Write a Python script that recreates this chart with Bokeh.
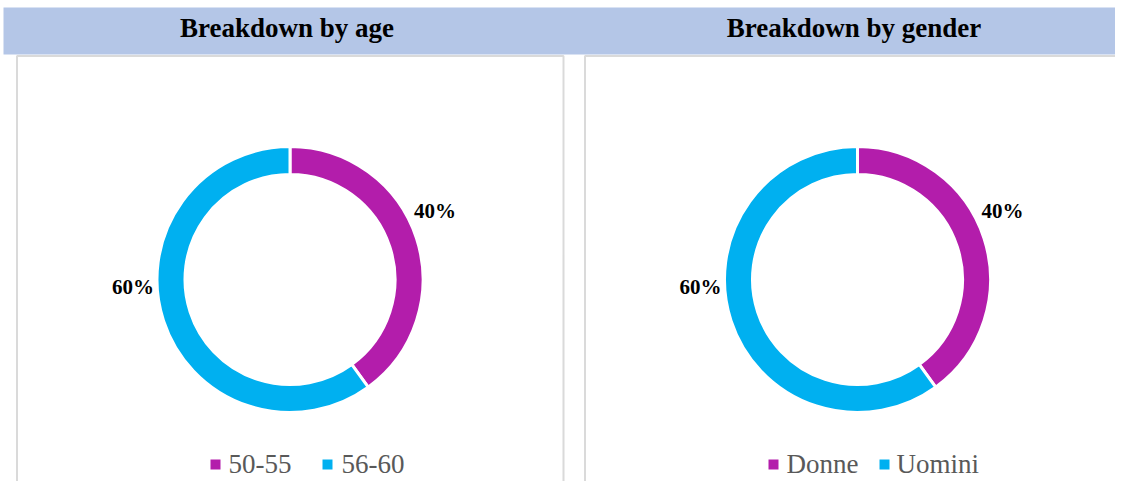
import numpy as np
from bokeh.plotting import figure
from bokeh.models import Range1d
from bokeh.core.properties import value
from bokeh.embed import file_html
from bokeh.resources import INLINE

# ---- data ----
titles = ["Breakdown by age", "Breakdown by gender"]
age_categories = ["50-55", "56-60"]
age_values = [40, 60]
gender_categories = ["Donne", "Uomini"]
gender_values = [40, 60]
colors = ["#B31DAB", "#00B0F0"]

# ---- layout (screen pixel coordinates of the reference) ----
W, H = 1131, 497
FW, FH = 1115, 481
SERIF = "Liberation Serif"

p = figure(width=FW, height=FH,
           x_range=Range1d(0, FW), y_range=Range1d(H - FH, H),
           output_backend="svg", toolbar_location=None, min_border=0)
p.axis.visible = False
p.grid.visible = False
p.outline_line_color = None
p.background_fill_color = "white"
p.border_fill_color = "white"


def Y(s):
    return H - s


# header band
p.quad(left=3, right=1140, top=Y(7), bottom=Y(54),
       fill_color="#B4C6E7", line_color=None)

panels = [
    dict(left=16.5, right=563, cx=289.5, title_x=286.5,
         cats=age_categories, vals=age_values,
         legend_sq=[215, 327], legend_tx=[228, 341]),
    dict(left=584.5, right=1129, cx=857, title_x=853.5,
         cats=gender_categories, vals=gender_values,
         legend_sq=[773, 884], legend_tx=[786, 896]),
]

CY = 279
R_IN, R_OUT = 105, 133
label_offsets = [(145, 69), (-157, -7)]
LEG_Y = 463

for panel, title in zip(panels, titles):
    # panel frame
    p.quad(left=panel["left"], right=panel["right"], top=Y(55.5), bottom=Y(520),
           fill_color="white", line_color="#DADADA", line_width=2)
    # title
    p.text(x=[panel["title_x"]], y=[Y(27)], text=[title],
           text_font=value(SERIF), text_font_style="bold", text_font_size="27px",
           text_color="black", text_align="center", text_baseline="middle")
    # donut
    vals = np.array(panel["vals"], dtype=float)
    frac = vals / vals.sum()
    cum = np.concatenate([[0.0], np.cumsum(frac)])
    starts = np.pi / 2 - cum[:-1] * 2 * np.pi
    ends = np.pi / 2 - cum[1:] * 2 * np.pi
    p.annular_wedge(x=panel["cx"], y=Y(CY), inner_radius=R_IN, outer_radius=R_OUT,
                    start_angle=list(starts), end_angle=list(ends), direction="clock",
                    fill_color=colors, line_color="white", line_width=3)
    # data labels
    lx = [panel["cx"] + dx for dx, dy in label_offsets]
    ly = [Y(CY) + dy for dx, dy in label_offsets]
    labels = [f"{v:.0f}%" for v in frac * 100]
    p.text(x=lx, y=ly, text=labels, text_font=value(SERIF), text_font_style="bold",
           text_font_size="21px", text_color="black",
           text_align="center", text_baseline="middle")
    # legend
    p.scatter(x=panel["legend_sq"], y=[Y(LEG_Y + 1)] * 2, marker="square", size=10,
              fill_color=colors, line_color=None)
    p.text(x=panel["legend_tx"], y=[Y(LEG_Y)] * 2, text=panel["cats"],
           text_font=value(SERIF), text_font_size="27px", text_color="#595959",
           text_align="left", text_baseline="middle")

open("out.html", "w").write(file_html(p, INLINE))
